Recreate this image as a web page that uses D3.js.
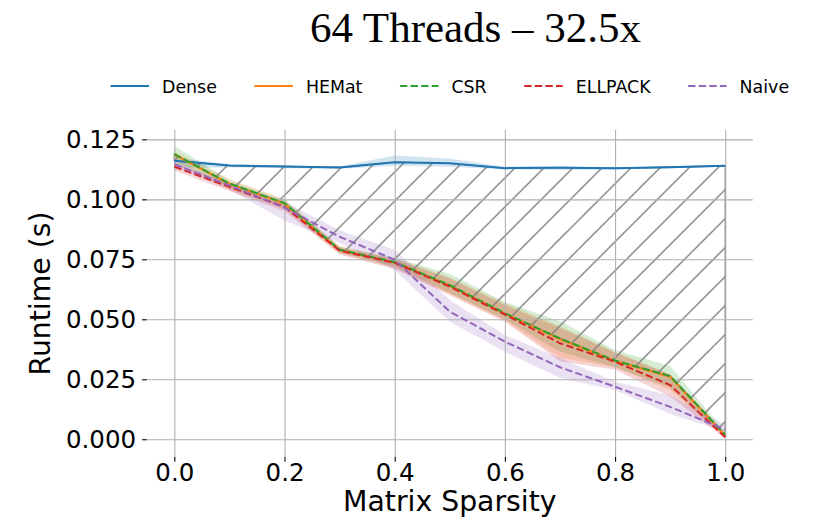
<!DOCTYPE html>
<html>
<head>
<meta charset="utf-8">
<script src="https://cdn.jsdelivr.net/npm/d3@7"></script>
<style>
  body { margin: 0; background: #fff; }
  svg { display: block; }
  .axis text { font-family: "DejaVu Sans", sans-serif; font-size: 24.5px; fill: #000; }
  .axis .domain { display: none; }
  .axis line { stroke: #000; stroke-width: 1.1; }
  .grid line { stroke: #b0b0b0; stroke-width: 1.1; }
  .grid .domain { display: none; }
  .label { font-family: "DejaVu Sans", sans-serif; font-size: 28.3px; fill: #000; }
  .legend text { font-family: "DejaVu Sans", sans-serif; font-size: 17.4px; fill: #000; }
</style>
</head>
<body>
<script>
// sparsity levels on the x axis
var sparsity = [0.0, 0.1, 0.2, 0.3, 0.4, 0.5, 0.6, 0.7, 0.8, 0.9, 1.0];

// mean runtime (s) per method
var dense   = [0.1161, 0.1141, 0.1137, 0.1133, 0.1155, 0.1150, 0.1130, 0.1132, 0.1130, 0.1134, 0.1140];
var hemat   = [0.1186, 0.1064, 0.0982, 0.0788, 0.0737, 0.0640, 0.0524, 0.0416, 0.0326, 0.0260, 0.0016];
var csr     = [0.1188, 0.1066, 0.0984, 0.0790, 0.0738, 0.0642, 0.0525, 0.0420, 0.0328, 0.0263, 0.0018];
var ellpack = [0.1136, 0.1052, 0.0968, 0.0786, 0.0735, 0.0636, 0.0520, 0.0400, 0.0323, 0.0226, 0.0008];
var naive   = [0.1146, 0.1058, 0.0965, 0.0844, 0.0748, 0.0532, 0.0407, 0.0300, 0.0219, 0.0135, 0.0040];

// confidence band bounds
var denseLo   = [0.1132, 0.1133, 0.1130, 0.1127, 0.1140, 0.1136, 0.1124, 0.1122, 0.1124, 0.1130, 0.1136];
var denseHi   = [0.1172, 0.1147, 0.1141, 0.1137, 0.1183, 0.1170, 0.1136, 0.1140, 0.1133, 0.1139, 0.1143];
var hematLo   = [0.1150, 0.1040, 0.0960, 0.0775, 0.0715, 0.0605, 0.0495, 0.0340, 0.0300, 0.0205, 0.0005];
var hematHi   = [0.1200, 0.1085, 0.1000, 0.0805, 0.0755, 0.0675, 0.0568, 0.0472, 0.0365, 0.0272, 0.0025];
var csrLo     = [0.1160, 0.1050, 0.0970, 0.0778, 0.0720, 0.0610, 0.0500, 0.0365, 0.0300, 0.0215, 0.0010];
var csrHi     = [0.1222, 0.1080, 0.0998, 0.0802, 0.0755, 0.0690, 0.0572, 0.0492, 0.0372, 0.0305, 0.0030];
var ellpackLo = [0.1120, 0.1035, 0.0950, 0.0770, 0.0710, 0.0600, 0.0490, 0.0325, 0.0290, 0.0178, 0.0002];
var ellpackHi = [0.1150, 0.1065, 0.0985, 0.0800, 0.0750, 0.0670, 0.0560, 0.0465, 0.0362, 0.0270, 0.0015];
var naiveLo   = [0.1135, 0.1040, 0.0912, 0.0818, 0.0705, 0.0490, 0.0365, 0.0255, 0.0205, 0.0105, 0.0032];
var naiveHi   = [0.1160, 0.1070, 0.0990, 0.0871, 0.0789, 0.0580, 0.0435, 0.0339, 0.0240, 0.0182, 0.0060];

var xTicks = [0.0, 0.2, 0.4, 0.6, 0.8, 1.0];
var yTicks = [0.000, 0.025, 0.050, 0.075, 0.100, 0.125];

var series = [
  {name: "Dense",   mean: dense,   lo: denseLo,   hi: denseHi,   color: "#1f77b4", dashed: false},
  {name: "HEMat",   mean: hemat,   lo: hematLo,   hi: hematHi,   color: "#ff7f0e", dashed: false},
  {name: "CSR",     mean: csr,     lo: csrLo,     hi: csrHi,     color: "#2ca02c", dashed: true},
  {name: "ELLPACK", mean: ellpack, lo: ellpackLo, hi: ellpackHi, color: "#d62728", dashed: true},
  {name: "Naive",   mean: naive,   lo: naiveLo,   hi: naiveHi,   color: "#9467bd", dashed: true}
];

var margin = {top: 130, right: 63.2, bottom: 63, left: 146.8},
    width = 816 - margin.left - margin.right,
    height = 520 - margin.top - margin.bottom;

var svg = d3.select("body").append("svg")
    .attr("width", 816)
    .attr("height", 520);

var g = svg.append("g")
    .attr("transform", "translate(" + margin.left + "," + margin.top + ")");

var x = d3.scaleLinear().domain([-0.05, 1.05]).range([0, width]);
var y = d3.scaleLinear().domain([-0.0074, 0.1289]).range([height, 0]);

// hatch pattern for the gap between dense and csr
var defs = svg.append("defs");
var pat = defs.append("pattern")
    .attr("id", "hatch")
    .attr("patternUnits", "userSpaceOnUse")
    .attr("width", 29)
    .attr("height", 29);
pat.append("path")
    .attr("d", "M0,29 L29,0 M-8,8 L8,-8 M21,37 L37,21")
    .attr("stroke", "#808080")
    .attr("stroke-width", 1.4);

// bands first (under everything else)
series.forEach(function(s) {
  var area = d3.area()
      .x(function(d, i) { return x(sparsity[i]); })
      .y0(function(d, i) { return y(s.lo[i]); })
      .y1(function(d, i) { return y(s.hi[i]); });
  g.append("path")
    .attr("d", area(s.mean))
    .attr("fill", s.color)
    .attr("fill-opacity", 0.2)
    .attr("stroke", "none");
});

// hatched region between dense and csr
var gap = d3.area()
    .x(function(d, i) { return x(sparsity[i]); })
    .y0(function(d, i) { return y(csr[i]); })
    .y1(function(d, i) { return y(dense[i]); });
g.append("path")
  .attr("d", gap(dense))
  .attr("fill", "url(#hatch)")
  .attr("stroke", "#808080")
  .attr("stroke-width", 1.4);

// grid
g.append("g")
  .attr("class", "grid")
  .call(d3.axisLeft(y).tickValues(yTicks).tickSize(-width).tickFormat(""));
g.append("g")
  .attr("class", "grid")
  .attr("transform", "translate(0," + height + ")")
  .call(d3.axisBottom(x).tickValues(xTicks).tickSize(height).tickFormat(""))
  .selectAll("line")
  .attr("y2", -height);

// lines
var line = d3.line()
    .x(function(d, i) { return x(sparsity[i]); })
    .y(function(d) { return y(d); });

series.forEach(function(s) {
  g.append("path")
    .attr("d", line(s.mean))
    .attr("fill", "none")
    .attr("stroke", s.color)
    .attr("stroke-width", 2)
    .attr("stroke-dasharray", s.dashed ? "7.4,3.2" : null);
});

// axes
g.append("g")
  .attr("class", "axis")
  .call(d3.axisLeft(y).tickValues(yTicks).tickFormat(d3.format(".3f")).tickSize(4.7).tickPadding(6));

g.append("g")
  .attr("class", "axis")
  .attr("transform", "translate(0," + height + ")")
  .call(d3.axisBottom(x).tickValues(xTicks).tickFormat(d3.format(".1f")).tickSize(4.7).tickPadding(1.5));

// axis labels
svg.append("text")
  .attr("class", "label")
  .attr("x", margin.left + width / 2)
  .attr("y", 511)
  .attr("text-anchor", "middle")
  .text("Matrix Sparsity");

svg.append("text")
  .attr("class", "label")
  .attr("transform", "translate(50," + (margin.top + height / 2) + ") rotate(-90)")
  .attr("text-anchor", "middle")
  .text("Runtime (s)");

// title
svg.append("text")
  .attr("x", 475.5)
  .attr("y", 41.5)
  .attr("text-anchor", "middle")
  .style("font-family", "'Liberation Serif', 'Times New Roman', serif")
  .style("font-size", "43px")
  .text("64 Threads \u2013 32.5x");

// legend, one row centred over the axes
var legend = svg.append("g").attr("class", "legend");
var handle = 38.5, pad = 13, colGap = 37.5;
var items = series.map(function(s) {
  var it = legend.append("g");
  it.append("line")
    .attr("x1", 0).attr("x2", handle)
    .attr("y1", 86).attr("y2", 86)
    .attr("stroke", s.color)
    .attr("stroke-width", 2)
    .attr("stroke-dasharray", s.dashed ? "7.4,3.2" : null);
  var t = it.append("text")
    .attr("x", handle + pad)
    .attr("y", 92.5)
    .text(s.name);
  return {g: it, w: handle + pad + t.node().getComputedTextLength()};
});
var total = d3.sum(items, function(d) { return d.w; }) + colGap * (items.length - 1);
var cx = margin.left + width / 2 - total / 2;
items.forEach(function(d) {
  d.g.attr("transform", "translate(" + cx + ",0)");
  cx += d.w + colGap;
});
</script>
</body>
</html>
